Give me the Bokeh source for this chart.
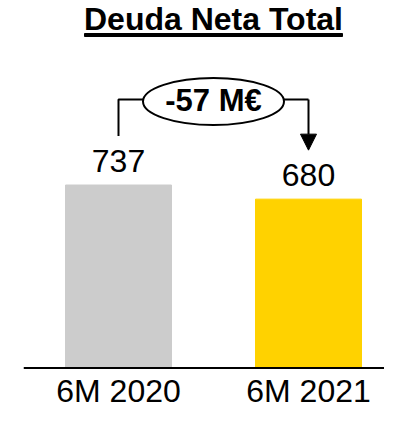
from bokeh.plotting import figure
from bokeh.models import Range1d, Arrow, NormalHead, ColumnDataSource, Span
from bokeh.embed import file_html
from bokeh.resources import INLINE
from bokeh.core.properties import value

# ---- data ----
categories = ["6M 2020", "6M 2021"]
values = [737, 680]
colors = ["#CCCCCC", "#FFD200"]
title_text = "Deuda Neta Total"
change_text = "-57 M€"

# ---- layout constants (pixels) ----
W, H = 384, 410
BL = 23
FRAME_W = W - BL
BASE_Y = 367.5                 # canvas row of the value-zero baseline
PX_PER_UNIT = 0.2483           # vertical pixels per data unit
X_PX = 190.0                   # pixels between category centres
FONT = "Liberation Sans"
TXT = -12                      # correction for text baseline placement

def y_at(cy):
    """canvas pixel row -> data y"""
    return (BASE_Y - cy) / PX_PER_UNIT

def up(v, px):
    return v + px / PX_PER_UNIT

xs = list(range(len(categories)))
x_start = -95.0 / X_PX
x_end = x_start + FRAME_W / X_PX

p = figure(width=W, height=H, output_backend="svg", toolbar_location=None,
           x_range=Range1d(x_start, x_end),
           y_range=Range1d(y_at(H), y_at(0)),
           x_axis_type=None, y_axis_type=None)
p.min_border = 0
p.min_border_left = BL
p.min_border_bottom = 0
p.min_border_right = 0
p.min_border_top = 0
p.outline_line_color = None
p.background_fill_color = "white"
p.border_fill_color = "white"

src = ColumnDataSource(dict(x=xs, top=values, color=colors,
                            label=[str(v) for v in values],
                            ly=[up(v, 12 - TXT) for v in values],
                            cat=categories,
                            cy=[y_at(402 + TXT)] * len(xs)))
p.vbar(x="x", top="top", width=106 / X_PX, color="color", source=src)
p.text(x="x", y="ly", text="label", source=src, text_align="center",
       text_baseline="alphabetic", text_font=value(FONT), text_font_size="32px",
       text_color="black")

# baseline (axis line) and category labels
p.add_layout(Span(location=0, dimension="width", line_color="black", line_width=2))
p.text(x="x", y="cy", text="cat", source=src, text_align="center",
       text_baseline="alphabetic", text_font=value(FONT), text_font_size="32px",
       text_color="black")

# bracket
y_br = y_at(99)
p.line(x=[xs[0], xs[0], xs[1]], y=[up(values[0], 49), y_br, y_br],
       line_color="black", line_width=2)
p.add_layout(Arrow(end=NormalHead(size=16, fill_color="black", line_color="black"),
                   x_start=xs[1], y_start=y_br, x_end=xs[1], y_end=up(values[1], 49),
                   line_color="black", line_width=2))
xm = (xs[0] + xs[1]) / 2
p.ellipse(x=[xm], y=[y_at(101)], width=141, height=47, width_units="screen",
          height_units="screen", fill_color="white", line_color="black", line_width=2)
p.text(x=[xm], y=[y_at(112 + TXT)], text=[change_text], text_align="center",
       text_baseline="alphabetic", text_font=value(FONT), text_font_size="31px",
       text_font_style="bold", text_color="black")

# title
p.text(x=[xm], y=[y_at(30 + TXT)], text=[title_text], text_align="center",
       text_baseline="alphabetic", text_font=value(FONT), text_font_size="32px",
       text_font_style="bold", text_color="black")
p.rect(x=[xm], y=[y_at(34.5)], width=258, height=3, width_units="screen",
       height_units="screen", color="black")

open("out.html", "w").write(file_html(p, INLINE))
